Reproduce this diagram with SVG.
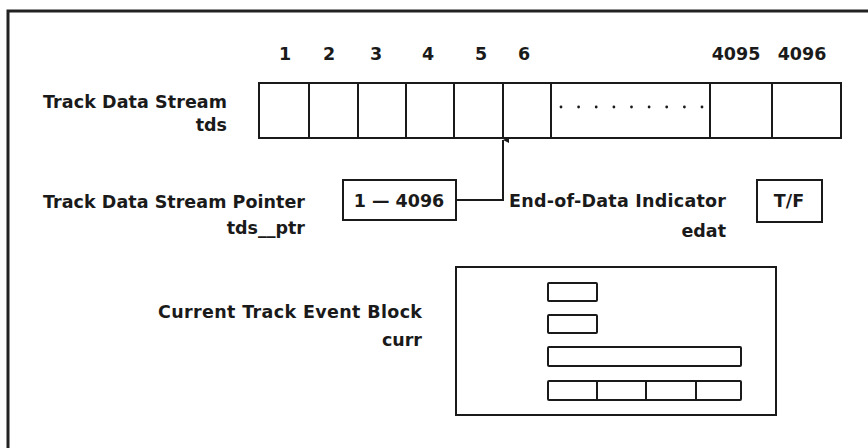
<svg xmlns="http://www.w3.org/2000/svg" width="868" height="448" viewBox="0 0 868 448">
<defs>
<style>
.t{font-family:"DejaVu Sans","Liberation Sans",sans-serif;font-weight:bold;font-size:17.5px;fill:#1a1a1a}
.b{fill:#fff;stroke:#1a1a1a;stroke-width:2}
.l{fill:none;stroke:#1a1a1a;stroke-width:2}
</style>
<marker id="ah" viewBox="0 0 6 6" refX="3" refY="0" markerWidth="6" markerHeight="6" orient="auto-start-reverse" markerUnits="userSpaceOnUse">
<path d="M0,6 L3,0 L6,6 Z" fill="#1a1a1a"/>
</marker>
</defs>
<rect width="868" height="448" fill="#fff"/>
<path d="M8,448 L8,11 L868,11" fill="none" stroke="#222" stroke-width="3"/>

<g id="tds">
<rect class="b" x="259" y="83" width="582" height="55"/>
<path class="l" d="M309,83V138M358,83V138M406,83V138M454,83V138M503,83V138M551,83V138M710,83V138M772,83V138"/>
<g fill="#1a1a1a">
<circle cx="561" cy="107" r="1.4"/><circle cx="578.6" cy="107" r="1.4"/><circle cx="596.2" cy="107" r="1.4"/>
<circle cx="613.9" cy="107" r="1.4"/><circle cx="631.5" cy="107" r="1.4"/><circle cx="649.1" cy="107" r="1.4"/>
<circle cx="666.7" cy="107" r="1.4"/><circle cx="684.4" cy="107" r="1.4"/><circle cx="702" cy="107" r="1.4"/>
</g>
<g class="t" text-anchor="middle">
<text x="285" y="60">1</text>
<text x="329" y="60">2</text>
<text x="376" y="60">3</text>
<text x="428" y="60">4</text>
<text x="481" y="60">5</text>
<text x="524" y="60">6</text>
<text x="736" y="60">4095</text>
<text x="802" y="60">4096</text>
</g>
<text class="t" x="227" y="108" text-anchor="end" textLength="184">Track Data Stream</text>
<text class="t" x="227" y="131" text-anchor="end">tds</text>
</g>

<g id="tds_ptr">
<rect class="b" x="343" y="180" width="113" height="40"/>
<text class="t" x="399" y="207" text-anchor="middle">1 — 4096</text>
<text class="t" x="305" y="208" text-anchor="end" textLength="262">Track Data Stream Pointer</text>
<text class="t" x="305" y="234" text-anchor="end">tds__ptr</text>
</g>

<g id="edat">
<rect class="b" x="757" y="180" width="65" height="42"/>
<text class="t" x="789" y="207" text-anchor="middle">T/F</text>
<text class="t" x="509" y="207" textLength="217">End-of-Data Indicator</text>
<text class="t" x="726" y="237" text-anchor="end">edat</text>
</g>

<g id="curr">
<rect class="b" x="456" y="267" width="320" height="148" stroke-width="3"/>
<rect class="b" x="548" y="283" width="49" height="18" rx="1"/>
<rect class="b" x="548" y="315" width="49" height="18" rx="1"/>
<rect class="b" x="548" y="347" width="193" height="19" rx="1"/>
<rect class="b" x="548" y="381" width="193" height="19" rx="1"/>
<path class="l" d="M597,381V400M646,381V400M696,381V400"/>
<text class="t" x="422" y="318" text-anchor="end" textLength="264">Current Track Event Block</text>
<text class="t" x="422" y="346" text-anchor="end">curr</text>
</g>

<g id="connectors">
<path class="l" d="M456,200 H503 V140" marker-end="url(#ah)"/>
</g>
</svg>
